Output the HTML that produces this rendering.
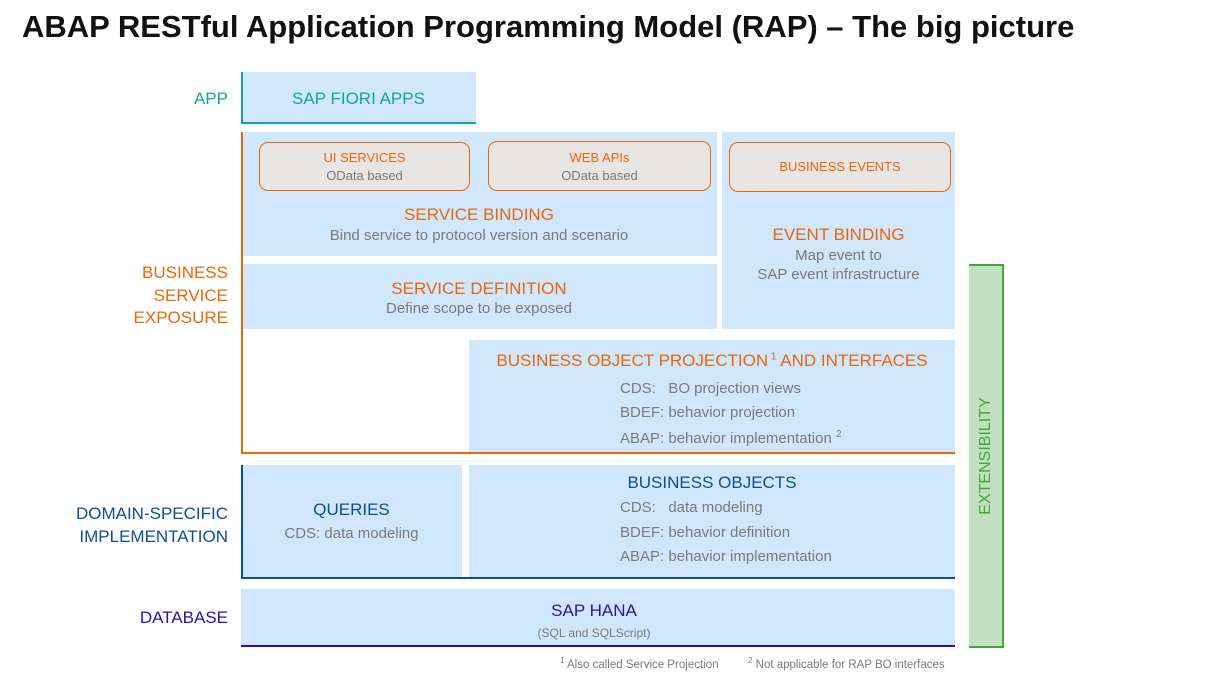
<!DOCTYPE html>
<html><head><meta charset="utf-8"><style>
body{margin:0;width:1225px;height:678px;background:#fff;position:relative;overflow:hidden;font-family:"Liberation Sans",sans-serif}
div{position:absolute;box-sizing:border-box}
.b{background:#d1e7fb}
.t{white-space:nowrap;text-align:center}
.o{color:#e8670c}.g{color:#7a7a7a}.bl{color:#0b4f94}
.pill{background:#e8e5e3;border:1.5px solid #e8670c;border-radius:9px}
.l{white-space:nowrap;text-align:left}
</style></head><body>
<div class="t" style="left:22px;top:9px;font-size:31px;font-weight:bold;color:#111;text-align:left;letter-spacing:0px">ABAP RESTful Application Programming Model (RAP) – The big picture</div>

<!-- left labels -->
<div class="t" style="right:997px;top:89px;font-size:17px;color:#17a2a0;text-align:right">APP</div>
<div class="t" style="right:997px;top:262px;font-size:17px;color:#e8670c;text-align:right;line-height:22.5px">BUSINESS<br>SERVICE<br>EXPOSURE</div>
<div class="t" style="right:997px;top:502px;font-size:17px;color:#0b4f94;text-align:right;line-height:23px">DOMAIN-SPECIFIC<br>IMPLEMENTATION</div>
<div class="t" style="right:997px;top:608px;font-size:17px;color:#2a12a0;text-align:right">DATABASE</div>

<!-- APP -->
<div class="b" style="left:241px;top:72px;width:235px;height:52px;border-left:2px solid #17a2a0;border-bottom:2px solid #17a2a0"></div>
<div class="t" style="left:241px;width:235px;top:89px;font-size:17px;color:#17a2a0">SAP FIORI APPS</div>

<!-- service binding -->
<div class="b" style="left:241px;top:132px;width:476px;height:124px"></div>
<div class="pill" style="left:259px;top:142px;width:211px;height:49px"></div>
<div class="t o" style="left:259px;width:211px;top:150px;font-size:13px">UI SERVICES</div>
<div class="t g" style="left:259px;width:211px;top:168px;font-size:13px">OData based</div>
<div class="pill" style="left:488px;top:141px;width:223px;height:50px"></div>
<div class="t o" style="left:488px;width:223px;top:150px;font-size:13px">WEB APIs</div>
<div class="t g" style="left:488px;width:223px;top:168px;font-size:13px">OData based</div>
<div class="t o" style="left:241px;width:476px;top:205px;font-size:17px">SERVICE BINDING</div>
<div class="t g" style="left:241px;width:476px;top:227px;font-size:15px">Bind service to protocol version and scenario</div>

<!-- service definition -->
<div class="b" style="left:241px;top:264px;width:476px;height:65px"></div>
<div class="t o" style="left:241px;width:476px;top:279px;font-size:17px">SERVICE DEFINITION</div>
<div class="t g" style="left:241px;width:476px;top:300px;font-size:15px">Define scope to be exposed</div>

<!-- event binding -->
<div class="b" style="left:722px;top:132px;width:233px;height:197px"></div>
<div class="pill" style="left:729px;top:142px;width:222px;height:50px"></div>
<div class="t o" style="left:729px;width:222px;top:159px;font-size:13px">BUSINESS EVENTS</div>
<div class="t o" style="left:722px;width:233px;top:225px;font-size:17px">EVENT BINDING</div>
<div class="t g" style="left:722px;width:233px;top:246px;font-size:15px;line-height:19px">Map event to<br>SAP event infrastructure</div>

<!-- BO projection -->
<div class="b" style="left:469px;top:340px;width:486px;height:113px"></div>
<div class="t o" style="left:469px;width:486px;top:351px;font-size:17px">BUSINESS OBJECT PROJECTION<sup style="font-size:10px"> 1</sup> AND INTERFACES</div>
<div class="l g" style="left:620px;top:380px;font-size:15px">CDS:&nbsp;&nbsp; BO projection views</div>
<div class="l g" style="left:620px;top:404px;font-size:15px">BDEF: behavior projection</div>
<div class="l g" style="left:620px;top:429px;font-size:15px">ABAP: behavior implementation <sup style="font-size:10px">2</sup></div>
<div style="left:241px;top:132px;width:2px;height:322px;background:#e8670c"></div>
<div style="left:241px;top:452px;width:714px;height:2px;background:#e8670c"></div>

<!-- queries / BO -->
<div class="b" style="left:241px;top:465px;width:221px;height:113px"></div>
<div class="t bl" style="left:241px;width:221px;top:500px;font-size:17px">QUERIES</div>
<div class="t g" style="left:241px;width:221px;top:525px;font-size:15px">CDS: data modeling</div>
<div class="b" style="left:469px;top:465px;width:486px;height:113px"></div>
<div class="t bl" style="left:469px;width:486px;top:473px;font-size:17px">BUSINESS OBJECTS</div>
<div class="l g" style="left:620px;top:499px;font-size:15px">CDS:&nbsp;&nbsp; data modeling</div>
<div class="l g" style="left:620px;top:524px;font-size:15px">BDEF: behavior definition</div>
<div class="l g" style="left:620px;top:548px;font-size:15px">ABAP: behavior implementation</div>
<div style="left:241px;top:465px;width:2px;height:114px;background:#0b4f94"></div>
<div style="left:241px;top:577px;width:714px;height:2px;background:#0b4f94"></div>

<!-- HANA -->
<div class="b" style="left:241px;top:589px;width:714px;height:58px;border-bottom:2px solid #2a12a0"></div>
<div class="t" style="left:469px;width:250px;top:601px;font-size:17px;color:#2a12a0">SAP HANA</div>
<div class="t g" style="left:469px;width:250px;top:626px;font-size:12px">(SQL and SQLScript)</div>

<!-- extensibility -->
<div style="left:969px;top:264px;width:35px;height:384px;background:#c3dfc1;border-top:2px solid #3daa35;border-right:2px solid #3daa35;border-bottom:2px solid #3daa35"></div>
<div class="t" style="left:986px;top:456px;font-size:16px;color:#3daa35;transform:translate(-50%,-50%) rotate(-90deg)">EXTENSIBILITY</div>

<div class="l g" style="left:560px;top:656px;font-size:11.5px"><sup style="font-size:8px">1</sup> Also called Service Projection</div>
<div class="l g" style="left:748px;top:656px;font-size:11.5px"><sup style="font-size:8px">2</sup> Not applicable for RAP BO interfaces</div>
</body></html>
